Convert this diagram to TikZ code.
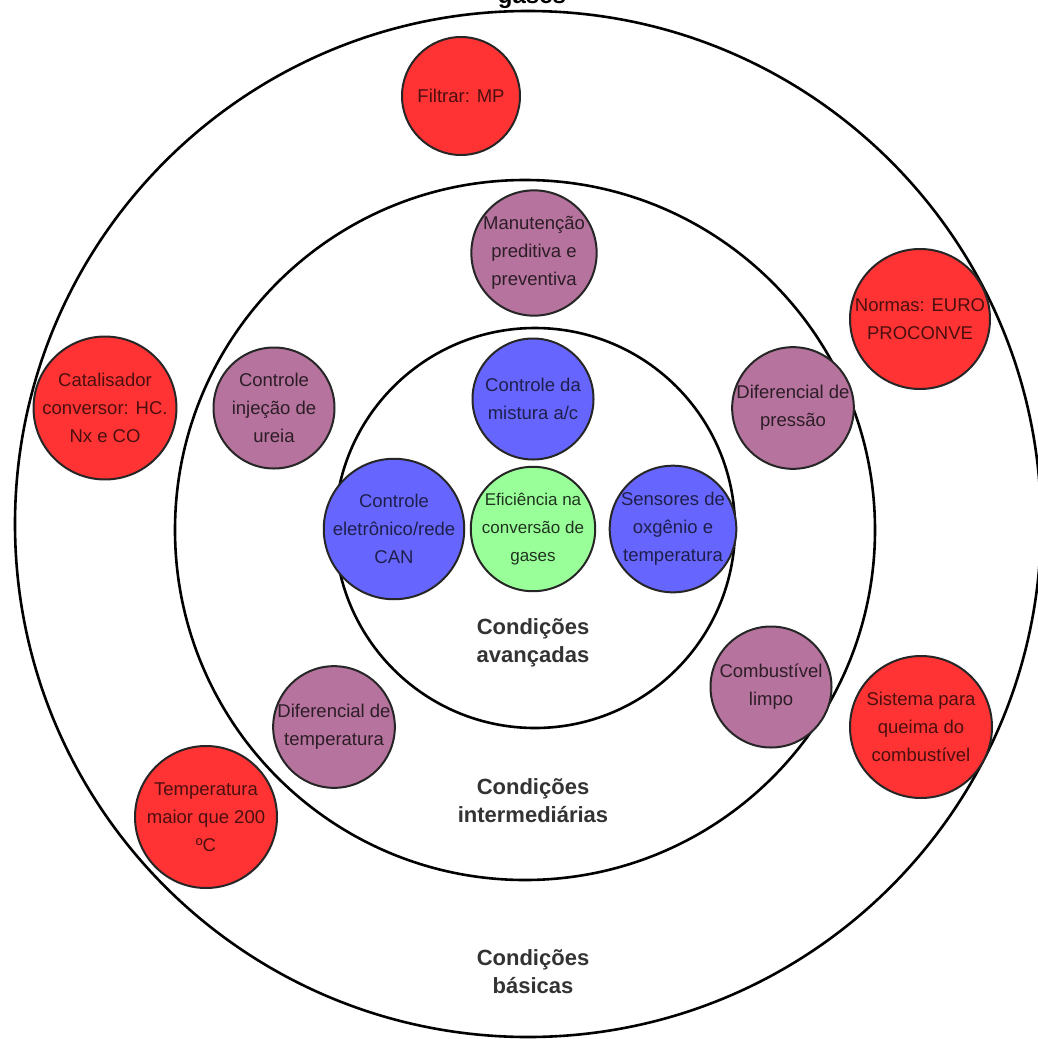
\documentclass[tikz,border=0pt]{standalone}
\usepackage{fontspec}
\setmainfont{Liberation Sans}
\definecolor{redfill}{HTML}{FF3333}
\definecolor{purplefill}{HTML}{B5739D}
\definecolor{bluefill}{HTML}{6666FF}
\definecolor{greenfill}{HTML}{99FF99}
\definecolor{labelgray}{HTML}{333333}
\tikzset{
  ring/.style={circle, draw=black, line width=2.6pt, fill=white, inner sep=0pt},
  bubble/.style={circle, draw=black!85, line width=2pt, inner sep=0pt, align=center,
    font=\fontsize{18.5}{28}\selectfont},
  redbub/.style={bubble, fill=redfill, text=redfill!30!black},
  purplebub/.style={bubble, fill=purplefill, text=purplefill!25!black},
  bluebub/.style={bubble, fill=bluefill, text=bluefill!30!black},
  greenbub/.style={bubble, fill=greenfill, text=greenfill!20!black},
  levellabel/.style={align=center, text=labelgray, font=\bfseries\fontsize{22}{28}\selectfont}
}
\begin{document}
\begin{tikzpicture}[x=1pt,y=-1pt]
\useasboundingbox (0,0) rectangle (1038,1039);
\begin{scope}
\clip (0,0) rectangle (1038,1039);
% heading (last line only)
\node[font=\bfseries\fontsize{24}{28}\selectfont, anchor=base] (title) at (532,3) {gases};
% concentric condition rings
\node[ring, minimum size=1026pt] (outer) at (528,524) {};
\node[ring, minimum size=700pt] (middle) at (525,530) {};
\node[ring, minimum size=400pt] (inner) at (535,528) {};
\end{scope}
% level labels
\node[levellabel] (lblAdv) at (533,643) {Condições\\avançadas};
\node[levellabel] (lblMid) at (533,801) {Condições\\intermediárias};
\node[levellabel] (lblBas) at (533,972) {Condições\\básicas};
% basic conditions
\node[redbub, minimum size=118pt] (filtrar) at (461,96) {Filtrar: MP};
\node[redbub, minimum size=140pt] (normas) at (920,319) {Normas: EURO\\PROCONVE};
\node[redbub, minimum size=141pt] (catal) at (105,408) {Catalisador\\conversor: HC.\\Nx e CO};
\node[redbub, minimum size=142pt] (queima) at (921,727) {Sistema para\\queima do\\combustível};
\node[redbub, minimum size=142pt] (temp) at (206,817) {Temperatura\\maior que 200\\ºC};
% intermediate conditions
\node[purplebub, minimum size=121pt] (manut) at (534,253) {Manutenção\\preditiva e\\preventiva};
\node[purplebub, minimum size=121pt] (ureia) at (274,408) {Controle\\injeção de\\ureia};
\node[purplebub, minimum size=121pt] (pressao) at (793,408) {Diferencial de\\pressão};
\node[purplebub, minimum size=120pt] (diftemp) at (334,727) {Diferencial de\\temperatura};
\node[purplebub, minimum size=121pt] (limpo) at (771,687) {Combustível\\limpo};
% advanced conditions
\node[bluebub, minimum size=121pt] (mistura) at (533,399) {Controle da\\mistura a/c};
\node[bluebub, minimum size=120pt] (can) at (394,529) {Controle\\eletrônico/rede\\CAN};
\node[greenbub, minimum size=120pt, font=\fontsize{17}{28}\selectfont] (efic) at (533,529) {Eficiência na\\conversão de\\gases};
\node[bluebub, minimum size=121pt] (sensores) at (673,529) {Sensores de\\oxgênio e\\temperatura};
\end{tikzpicture}
\end{document}
